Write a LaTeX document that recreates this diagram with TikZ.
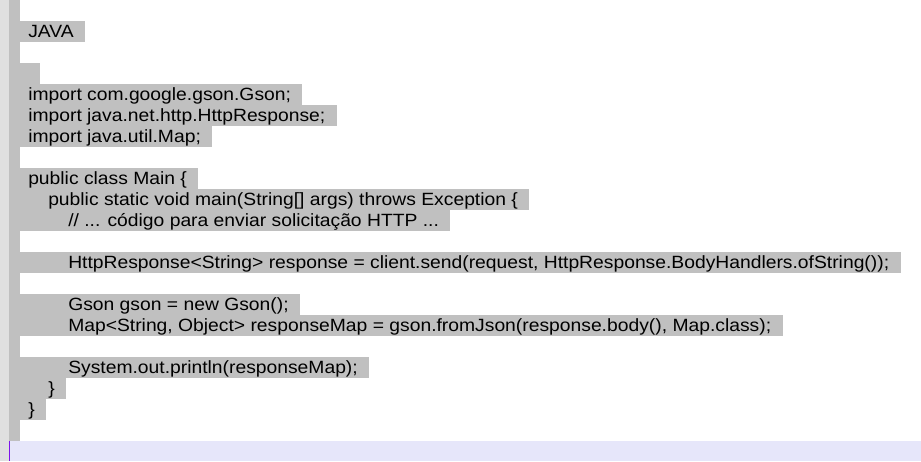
\documentclass[tikz,border=0pt]{standalone}
\usepackage{fontspec}
\setmainfont[FakeStretch=1.088]{Liberation Sans}
\usepackage{tikz}
\usetikzlibrary{positioning}
\definecolor{hl}{RGB}{192,192,192}
\definecolor{pagemargin}{RGB}{224,224,224}
\definecolor{lav}{RGB}{230,230,250}
\definecolor{cursor}{RGB}{125,20,235}
\newcommand{\lead}[1]{\hspace*{#1}}
\newcommand{\trail}{\hspace*{8.6pt}}

\begin{document}
\begin{tikzpicture}[x=0.75pt,y=-0.75pt,
  codeline/.style={anchor=north west,fill=hl,inner sep=0pt,text height=12pt,text depth=3.75pt,font=\fontsize{13.3pt}{16pt}\selectfont}]
\useasboundingbox (0,0) rectangle (921,461);
\fill[white] (0,0) rectangle (921,461);
%page margin, highlight bar and bottom strip
\fill[pagemargin] (0,0) rectangle (9,461);
\fill[hl] (9,0) rectangle (20,441);
\fill[lav] (9,441) rectangle (921,461);
\coordinate (curtop) at (9.5,441); \coordinate (curbot) at (9.5,461);
\draw[cursor,line width=0.9pt] (curtop) -- (curbot);
%heading
\node[codeline] (java) at (20,21) {\lead{6pt}JAVA\trail};
\node[codeline] (blank) at (20,63) {\lead{15pt}};
%imports
\node[codeline] (impGson) at (20,84) {\lead{6pt}import com.google.gson.Gson;\trail};
\node[codeline] (impHttp) at (20,105) {\lead{6pt}import java.net.http.HttpResponse;\trail};
\node[codeline] (impMap) at (20,126) {\lead{6pt}import java.util.Map;\trail};
%class and main
\node[codeline] (cls) at (20,168) {\lead{6pt}public class Main \{\trail};
\node[codeline] (mainDecl) at (20,189) {\lead{21pt}public static void main(String[] args) throws Exception \{\trail};
\node[codeline] (comment) at (20,210) {\lead{36pt}// ... código para enviar solicitação HTTP ...\trail};
%body
\node[codeline] (send) at (20,252) {\lead{36pt}HttpResponse<String> response = client.send(request, HttpResponse.BodyHandlers.ofString());\trail};
\node[codeline] (gsonNew) at (20,294) {\lead{36pt}Gson gson = new Gson();\trail};
\node[codeline] (mapParse) at (20,315) {\lead{36pt}Map<String, Object> responseMap = gson.fromJson(response.body(), Map.class);\trail};
\node[codeline] (println) at (20,357) {\lead{36pt}System.out.println(responseMap);\trail};
%closing braces
\node[codeline] (closeMain) at (20,378) {\lead{21pt}\}\trail};
\node[codeline] (closeCls) at (20,399) {\lead{6pt}\}\trail};
\end{tikzpicture}
\end{document}
